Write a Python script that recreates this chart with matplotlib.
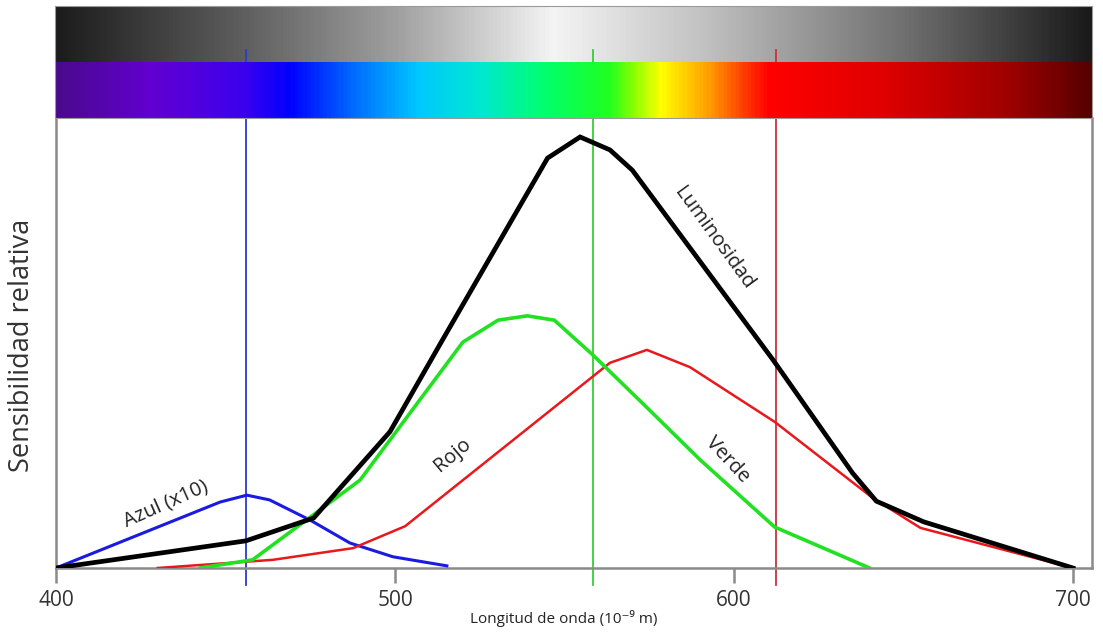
import matplotlib
matplotlib.use("Agg")
import matplotlib.pyplot as plt
import numpy as np
from matplotlib.colors import LinearSegmentedColormap

plt.rcParams['font.family'] = ['Open Sans', 'DejaVu Sans']

# curves: wavelength (nm) and relative sensitivity (peak of luminosity = 1)
lum_wl = [400, 456, 476, 498.5, 514, 545, 554.6, 563.4, 570, 611.5, 635, 642, 656, 700]
lum_val = [0.0, 0.063, 0.116, 0.316, 0.529, 0.951, 1.0, 0.970, 0.923, 0.483, 0.220, 0.155, 0.107, 0.0]

verde_wl = [442.5, 458, 475, 489.7, 498.5, 520, 530.4, 539, 547, 558.4, 575, 590, 612, 640]
verde_val = [0.0, 0.019, 0.118, 0.204, 0.297, 0.524, 0.575, 0.585, 0.575, 0.494, 0.367, 0.251, 0.095, 0.0]

rojo_wl = [430, 464, 487.6, 503, 563.4, 574.3, 587, 612, 641, 655, 700]
rojo_val = [0.0, 0.019, 0.046, 0.097, 0.476, 0.506, 0.466, 0.339, 0.162, 0.093, 0.0]

azul_wl = [400, 448.4, 456.3, 463, 475, 486.7, 499.4, 515.3]
azul_val = [0.0, 0.153, 0.169, 0.158, 0.111, 0.058, 0.026, 0.005]

# reference wavelengths of the three cones
marks_wl = [456, 558.4, 612.3]
marks_col = ['#2a3bd0', '#33d033', '#c8323a']

ticks = [400, 500, 600, 700]

# colour bars (position 0..1 along the bar)
gray_stops = [(0.0, '#1c1c1c'), (0.18, '#5e5e5e'), (0.33, '#a0a0a0'), (0.48, '#f4f4f4'),
              (0.62, '#c4c4c4'), (0.82, '#707070'), (1.0, '#1a1a1a')]
spec_stops = [(0.0, '#4a0a8c'), (0.09, '#6200d0'), (0.18, '#3c00ee'), (0.225, '#0000ff'),
              (0.29, '#0070ff'), (0.35, '#00c8ff'), (0.41, '#00e8d0'), (0.47, '#00ff70'),
              (0.535, '#20ff20'), (0.56, '#90ff00'), (0.585, '#ffff00'), (0.63, '#ffa000'),
              (0.67, '#ff3000'), (0.69, '#ff0000'), (0.80, '#e00000'), (0.92, '#a00000'),
              (1.0, '#580000')]

W, H = 1103, 635
fig = plt.figure(figsize=(W / 100, H / 100), dpi=100)

def box(x0, y0, x1, y1):
    return [x0 / W, (H - y1) / H, (x1 - x0) / W, (y1 - y0) / H]

ax_gray = fig.add_axes(box(55, 6, 1092, 62), zorder=0)
ax = fig.add_axes(box(56, 118, 1092, 568), zorder=1)
ax_spec = fig.add_axes(box(55, 62, 1092, 118), zorder=2)

grad = np.linspace(0, 1, 600)[None, :]
for a, stops in ((ax_gray, gray_stops), (ax_spec, spec_stops)):
    cmap = LinearSegmentedColormap.from_list('c', stops)
    a.imshow(grad, aspect='auto', cmap=cmap, extent=[0, 1, 0, 1])
    a.set_xticks([])
    a.set_yticks([])
    for s in a.spines.values():
        s.set_color('#9a9a9a')
        s.set_linewidth(0.8)
ax_spec.spines['top'].set_visible(False)
ax_gray.spines['bottom'].set_visible(False)

ax.set_xlim(400, 705.6)
ax.set_ylim(0, 1.044)

for wl, c in zip(marks_wl, marks_col):
    ax.axvline(wl, ymin=-0.038, ymax=1.151, color=c, lw=1.3, clip_on=False, zorder=1)

ax.plot(azul_wl, azul_val, color='#1a1ae0', lw=2.2, zorder=3)
ax.plot(rojo_wl, rojo_val, color='#e8181c', lw=1.8, zorder=3)
ax.plot(verde_wl, verde_val, color='#22e022', lw=2.6, zorder=3)
ax.plot(lum_wl, lum_val, color='black', lw=3.4, zorder=4, solid_joinstyle='miter')

lab = dict(fontsize=14.5, color='#222222', ha='center', va='center')
ax.text(432.5, 0.148, 'Azul (x10)', rotation=24, **lab)
ax.text(517, 0.262, 'Rojo', rotation=40, **lab)
ax.text(598, 0.25, 'Verde', rotation=-47, **lab)
ax.text(594, 0.765, 'Luminosidad', rotation=-54, **lab)

for side in ('left', 'right', 'bottom'):
    ax.spines[side].set_color('#8a8a8a')
    ax.spines[side].set_linewidth(1.8)
ax.spines['top'].set_visible(False)

ax.set_yticks([])
ax.set_xticks(ticks)
ax.tick_params(axis='x', direction='out', length=11, width=1.8, color='#8a8a8a',
               labelsize=15, labelcolor='#333333', pad=5)

ax.set_xlabel('Longitud de onda (10⁻⁹ m)', fontsize=11, color='#222222')
ax.xaxis.set_label_coords(0.49, -0.093)
fig.text(22 / W, 1 - 345 / H, 'Sensibilidad relativa', rotation=90, fontsize=19.5,
         color='#333333', ha='center', va='center')

fig.savefig('out.png', dpi=100)
